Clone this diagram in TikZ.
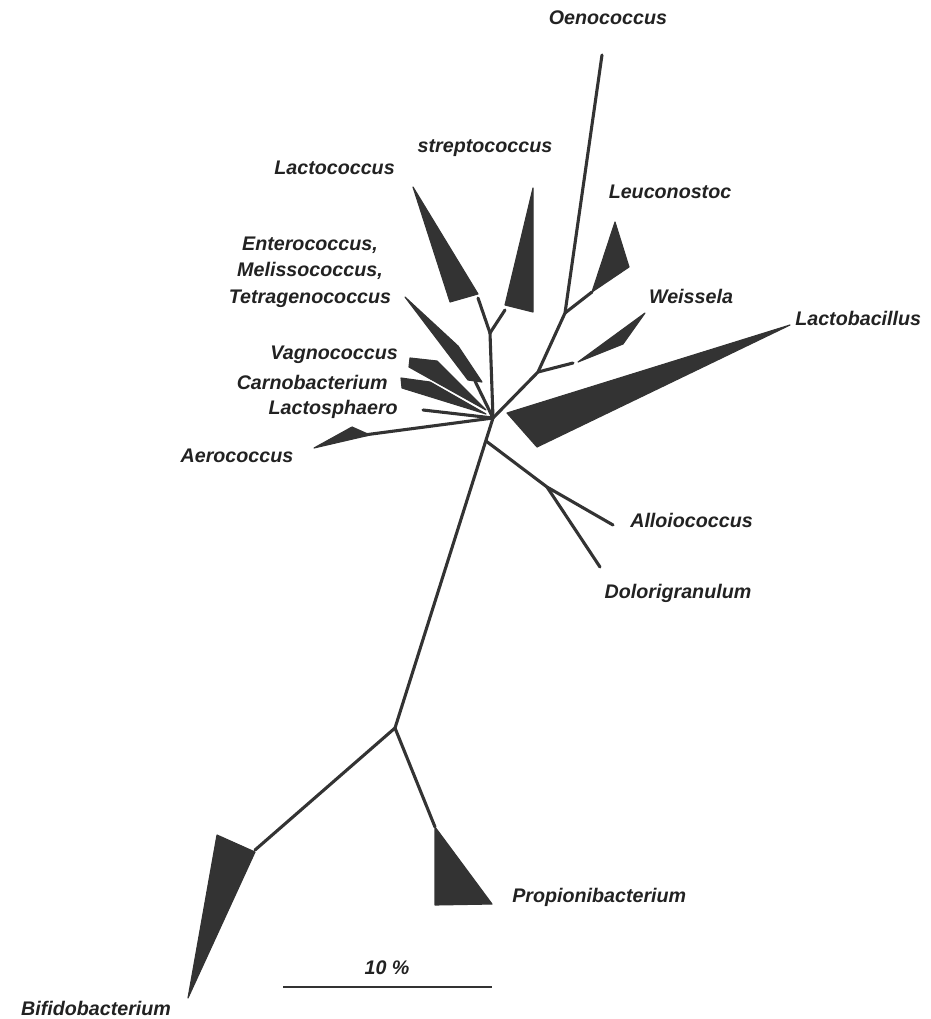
\documentclass[tikz,border=0pt]{standalone}
\usepackage{fontspec}
\newfontfamily\taxfamily{Liberation Sans}
\definecolor{treegray}{HTML}{333333}
\definecolor{labelgray}{HTML}{222222}
\newcommand{\taxfont}{\taxfamily\bfseries\itshape\fontsize{14}{19}\selectfont}

\begin{document}
\begin{tikzpicture}[x=0.025cm, y=-0.025cm,
  branch/.style={draw=treegray, line width=2.2pt, line cap=round},
  clade/.style={fill=treegray, draw=treegray, line width=0.8pt, line join=round},
  taxon/.style={font=\taxfont, text=labelgray, inner sep=0pt}]

\useasboundingbox (0,0) rectangle (931,1019);

% ===== tree nodes =====
\coordinate (n2)    at (395,728);
\coordinate (hub)   at (493,418);
\coordinate (wfork) at (538,372);
\coordinate (lfork) at (565,313);
\coordinate (oeno)  at (602,55);
\coordinate (sfork) at (490,333);
\coordinate (aroot) at (486,441);
\coordinate (afork) at (547,487);
\coordinate (allo)  at (613,525);
\coordinate (dolo)  at (600,567);

% ===== backbone =====
\draw[branch] (n2) -- (hub) -- (wfork) -- (lfork) -- (oeno);

% ===== upper clades =====
\draw[branch] (hub) -- (sfork);
\draw[branch] (sfork) -- (478,298);
\draw[branch] (sfork) -- (505,310);
\fill[clade] (413,187) -- (478,294) -- (450,302) -- cycle;
\fill[clade] (533,188) -- (533,312) -- (505,305) -- cycle;

\draw[branch] (lfork) -- (592,292);
\fill[clade] (615,222) -- (629,267) -- (592,292) -- cycle;
\draw[branch] (wfork) -- (573,363);
\fill[clade] (578,362) -- (645,313) -- (623,344) -- cycle;
\fill[clade] (507,413) -- (790,325) -- (537,447) -- cycle;

% ===== left fan =====
\fill[clade] (405,297) -- (458,346) -- (482,382) -- (468,380) -- cycle;
\draw[branch] (475,381) -- (hub);
\fill[clade] (410,358) -- (437,361) -- (486,410) -- (409,367) -- cycle;
\fill[clade] (401,378) -- (430,382) -- (486,414) -- (402,388) -- cycle;
\draw[branch] (423,410) -- (hub);
\fill[clade] (314,448) -- (352,427) -- (370,435) -- cycle;
\draw[branch] (364,435) -- (hub);

% ===== lower clades =====
\draw[branch] (aroot) -- (afork) -- (allo);
\draw[branch] (afork) -- (dolo);
\draw[branch] (n2) -- (255,850);
\fill[clade] (217,835) -- (255,852) -- (188,998) -- cycle;
\draw[branch] (n2) -- (435,827);
\fill[clade] (435,827) -- (435,905) -- (492,904) -- cycle;

% ===== labels =====
\node[taxon] (tOeno) at (608,18) {Oenococcus};
\node[taxon] (tStrep) at (485,148) {streptococcus};
\node[taxon, anchor=east] (tLacto) at (395,168) {Lactococcus};
\node[taxon] (tLeuco) at (670,192) {Leuconostoc};
\node[taxon] (tWeiss) at (691,296) {Weissela};
\node[taxon, anchor=west] (tLactob) at (795,318) {Lactobacillus};
\node[taxon, align=center] (tEntero) at (310,272) {Enterococcus,\\Melissococcus,\\Tetragenococcus};
\node[taxon, anchor=east] (tVagno) at (398,355) {Vagnococcus};
\node[taxon, anchor=east] (tCarno) at (388,382) {Carnobacterium};
\node[taxon, anchor=east] (tLsph) at (398,409) {Lactosphaero};
\node[taxon] (tAero) at (237,456) {Aerococcus};
\node[taxon, anchor=west] (tAllo) at (630,520) {Alloiococcus};
\node[taxon] (tDolo) at (678,593) {Dolorigranulum};
\node[taxon, anchor=west] (tProp) at (512,897) {Propionibacterium};
\node[taxon] (tBifi) at (96,1008) {Bifidobacterium};

% ===== scale bar =====
\coordinate (barL) at (283,987);
\coordinate (barR) at (492,987);
\draw[line width=2pt, treegray] (barL) -- (barR);
\node[taxon] (tScale) at (387,968) {10 \%};

\end{tikzpicture}
\end{document}
